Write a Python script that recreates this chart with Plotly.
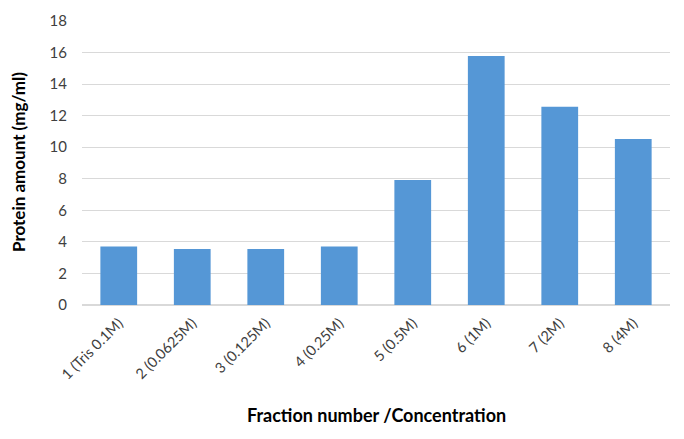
import plotly.graph_objects as go

categories = ["1 (Tris 0.1M)", "2 (0.0625M)", "3 (0.125M)", "4 (0.25M)",
              "5 (0.5M)", "6 (1M)", "7 (2M)", "8 (4M)"]
protein = [3.7, 3.55, 3.55, 3.7, 7.92, 15.78, 12.57, 10.52]
y_ticks = [0, 2, 4, 6, 8, 10, 12, 14, 16, 18]

FONT = "Lato, Open Sans, sans-serif"
L, R, T, B = 82, 14, 21, 134
W, H = 684, 439
PW, PH = W - L - R, H - T - B

fig = go.Figure(go.Bar(
    x=categories, y=protein,
    marker=dict(color="#5597d6", line=dict(width=0)),
))

fig.update_layout(
    width=W, height=H,
    margin=dict(l=L, r=R, t=T, b=B),
    paper_bgcolor="white", plot_bgcolor="white",
    bargap=0.5, showlegend=False,
    font=dict(family=FONT, size=14, color="#404040"),
    xaxis=dict(tickangle=-45, showgrid=False, showline=False, ticks="",
               automargin=False, ticklabelstandoff=6,
               tickfont=dict(size=14.5, color="#404040")),
    yaxis=dict(range=[0, 18], tickvals=y_ticks, showgrid=True,
               gridcolor="#d9d9d9", gridwidth=1, zeroline=True,
               zerolinecolor="#d9d9d9", ticks="", ticklen=0,
               automargin=False, ticklabelstandoff=14,
               tickfont=dict(size=15, color="#404040")),
    annotations=[
        dict(text="<b>Fraction number /Concentration</b>",
             xref="paper", yref="paper", x=0.5, y=-(415 - (T + PH)) / PH,
             showarrow=False, xanchor="center", yanchor="middle",
             font=dict(size=18, color="black")),
        dict(text="<b>Protein amount (mg/ml)</b>", textangle=-90,
             xref="paper", yref="paper", x=(18 - L) / PW, y=(H - B - 162) / PH,
             showarrow=False, xanchor="center", yanchor="middle",
             font=dict(size=17, color="black")),
    ],
)

fig.write_html("out.html", config={"displayModeBar": False},
               post_script="document.body.style.margin='0';document.body.style.padding='0';")
